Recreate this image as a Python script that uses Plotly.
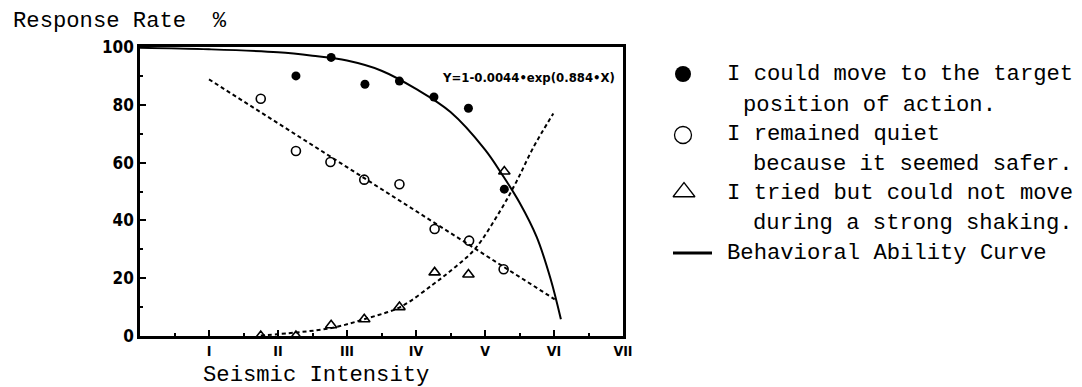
import plotly.graph_objects as go

# ---------------- data ----------------
intensity_ticks = [1, 2, 3, 4, 5, 6, 7]
intensity_labels = ["I", "II", "III", "IV", "V", "VI", "VII"]

moved_x = [2.26, 2.77, 3.26, 3.76, 4.26, 4.76, 5.28]
moved_y = [90.0, 96.4, 87.1, 88.2, 82.7, 78.8, 50.8]

quiet_x = [1.75, 2.26, 2.76, 3.25, 3.76, 4.27, 4.77, 5.27]
quiet_y = [82.1, 64.0, 60.2, 54.1, 52.5, 37.0, 33.0, 23.1]

failed_x = [1.75, 2.26, 2.77, 3.25, 3.76, 4.27, 4.76, 5.28]
failed_y = [0.0, 0.0, 3.7, 5.8, 10.0, 22.0, 21.3, 56.9]

# trend lines as drawn in the picture
quiet_trend_x = [1.0, 6.01]
quiet_trend_y = [88.8, 12.7]

failed_trend_x = [1.75, 2.26, 2.80, 3.29, 3.77, 4.25, 4.55, 4.85, 5.22, 5.46, 5.70, 5.99]
failed_trend_y = [0.2, 1.2, 2.9, 6.1, 10.0, 17.9, 23.5, 30.0, 43.3, 53.6, 65.2, 77.0]

ability_x = [0.0, 1.0, 2.0, 2.5, 3.0, 3.5, 4.0, 4.5, 5.0, 5.25, 5.5, 5.75, 5.95, 6.1]
ability_y = [99.7, 99.2, 98.2, 97.0, 95.3, 91.8, 85.5, 77.5, 64.5, 55.8, 46.2, 34.2, 19.8, 5.8]

equation_text = "Y=1-0.0044\u2022exp(0.884\u2022X)"
y_title = "Response\u00a0Rate\u00a0\u00a0%"
x_title = "Seismic Intensity"
legend_lines = [
    "I could move to the target",
    "position of action.",
    "I remained quiet",
    "because it seemed safer.",
    "I tried but could not move",
    "during a strong shaking.",
    "Behavioral Ability Curve",
]

# ---------------- layout geometry (pixels) ----------------
W, H = 1082, 387
PX0, PX1 = 140, 623       # plot area left / right
PY0, PY1 = 47, 336        # plot area top / bottom

MONO = "Liberation Mono, DejaVu Sans Mono, monospace"
NARROW = "Liberation Sans Narrow, Arial Narrow, DejaVu Sans Condensed, Liberation Sans, sans-serif"

def px(x):
    return x / W

def py(y):
    return 1 - y / H

fig = go.Figure()

dash = "4px,3px"
fig.add_trace(go.Scatter(x=quiet_trend_x, y=quiet_trend_y, mode="lines",
                         line=dict(color="black", width=2, dash=dash), hoverinfo="skip"))
fig.add_trace(go.Scatter(x=failed_trend_x, y=failed_trend_y, mode="lines",
                         line=dict(color="black", width=2, dash=dash, shape="spline"),
                         hoverinfo="skip"))
fig.add_trace(go.Scatter(x=ability_x, y=ability_y, mode="lines",
                         line=dict(color="black", width=2, shape="spline"), hoverinfo="skip"))

fig.add_trace(go.Scatter(x=moved_x, y=moved_y, mode="markers",
                         marker=dict(symbol="circle", size=9, color="black")))
fig.add_trace(go.Scatter(x=quiet_x, y=quiet_y, mode="markers",
                         marker=dict(symbol="circle-open", size=9, color="black",
                                     line=dict(width=1.6))))
fig.add_trace(go.Scatter(x=failed_x, y=failed_y, mode="markers",
                         marker=dict(symbol="triangle-up-open", size=10, color="black",
                                     line=dict(width=1.6))))

# ---- legend symbols on a full-figure pixel axis ----
fig.add_trace(go.Scatter(x=[683], y=[74], xaxis="x2", yaxis="y2", mode="markers",
                         marker=dict(symbol="circle", size=16, color="black")))
fig.add_trace(go.Scatter(x=[683], y=[135], xaxis="x2", yaxis="y2", mode="markers",
                         marker=dict(symbol="circle-open", size=17, color="black",
                                     line=dict(width=1.3))))
fig.add_trace(go.Scatter(x=[684], y=[192], xaxis="x2", yaxis="y2", mode="markers",
                         marker=dict(symbol="triangle-up-open", size=19, color="black",
                                     line=dict(width=1.3))))
fig.add_trace(go.Scatter(x=[673, 712], y=[253, 253], xaxis="x2", yaxis="y2", mode="lines",
                         line=dict(color="black", width=3)))

annotations = [
    dict(text=y_title, x=px(12), y=py(22), xanchor="left", yanchor="middle",
         font=dict(family=MONO, size=22.2, color="black")),
    dict(text=x_title, x=px(316), y=py(375), xanchor="center", yanchor="middle",
         font=dict(family=MONO, size=22.2, color="black")),
    dict(text=equation_text, x=px(528), y=py(77), xanchor="center", yanchor="middle",
         font=dict(family=NARROW, size=13, color="black", weight="bold")),
]
legend_x = [726, 742, 726, 752, 726, 752, 726]
legend_y = [74, 105, 135, 164, 193, 223, 253]
for t, lx, ly in zip(legend_lines, legend_x, legend_y):
    annotations.append(dict(text=t.replace(" ", "\u00a0"), x=px(lx), y=py(ly),
                            xanchor="left", yanchor="middle",
                            font=dict(family=MONO, size=22.2, color="black")))
for a in annotations:
    a.update(xref="paper", yref="paper", showarrow=False, borderpad=0)

fig.update_layout(
    width=W, height=H,
    margin=dict(l=0, r=0, t=0, b=0, autoexpand=False),
    paper_bgcolor="white", plot_bgcolor="rgba(0,0,0,0)",
    showlegend=False,
    annotations=annotations,
    xaxis=dict(domain=[PX0 / W, PX1 / W], range=[0, 7],
               tickvals=intensity_ticks, ticktext=intensity_labels,
               ticks="inside", ticklen=6, tickwidth=2, tickcolor="black",
               minor=dict(dtick=0.5, ticks="inside", ticklen=3, tickwidth=1.5, tickcolor="black"),
               showline=True, linewidth=2.5, linecolor="black", mirror=True,
               showgrid=False, zeroline=False, automargin=False,
               tickfont=dict(family=NARROW, size=14, color="black", weight="bold")),
    yaxis=dict(domain=[1 - PY1 / H, 1 - PY0 / H], range=[0, 100],
               tickvals=[0, 20, 40, 60, 80, 100], ticks="inside", ticklen=6, tickwidth=2,
               tickcolor="black",
               minor=dict(dtick=10, ticks="inside", ticklen=3, tickwidth=1.5, tickcolor="black"),
               showline=True, linewidth=2.5, linecolor="black", mirror=True,
               showgrid=False, zeroline=False, automargin=False,
               tickfont=dict(family=NARROW, size=17, color="black", weight="bold")),
    xaxis2=dict(domain=[0, 1], range=[0, W], visible=False, anchor="y2", fixedrange=True),
    yaxis2=dict(domain=[0, 1], range=[H, 0], visible=False, anchor="x2", fixedrange=True),
)

fig.write_html("out.html", config={"displayModeBar": False},
               post_script="document.body.style.margin='0';")
